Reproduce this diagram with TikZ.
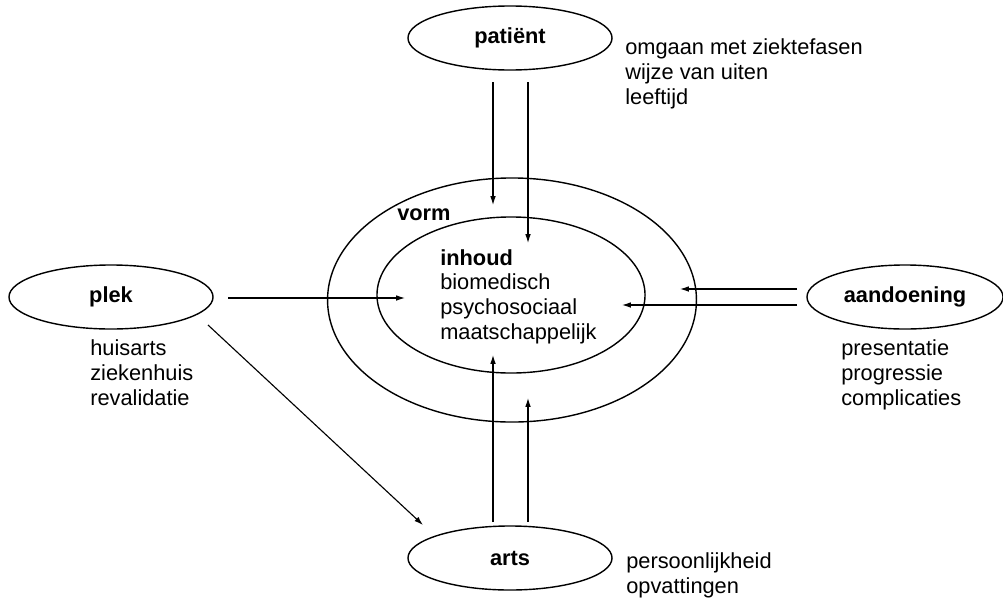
\documentclass[tikz,border=0pt]{standalone}
\usepackage{fontspec}
\setmainfont{Liberation Sans}
\usepackage{tikz}
\usetikzlibrary{positioning, arrows.meta, shapes.geometric}

\begin{document}
\begin{tikzpicture}[
    x=0.025cm, y=-0.025cm,
    every node/.style={font=\fontsize{15.5}{17.5}\selectfont},
    factor/.style={
        ellipse,
        draw=black,
        line width=1pt,
        inner sep=0pt,
        minimum width=5.1cm,
        minimum height=1.6cm,
        font=\fontsize{15.5}{17.5}\selectfont\bfseries
    },
    ring/.style={
        ellipse,
        draw=black,
        line width=1pt,
        inner sep=0pt
    },
    itemlist/.style={
        anchor=base west,
        align=left,
        inner sep=0pt
    },
    arrow/.style={-{Latex[length=2.2mm, width=1.4mm]}, line width=0.8pt}
]
\useasboundingbox (0,0) rectangle (1003,599);

% rings in the middle
\node[ring, minimum width=9.22cm, minimum height=6.1cm] (vorm) at (512,300) {};
\node[ring, minimum width=6.7cm, minimum height=3.9cm] (inhoud) at (511,295) {};

% the four factors
\node[factor] (patient) at (510,38) {patiënt};
\node[factor, minimum width=4.9cm] (aandoening) at (905,297) {aandoening};
\node[factor] (plek) at (111,297) {plek};
\node[factor] (arts) at (510,558) {arts};

% texts (anchored at the baseline of the last line)
\node[itemlist, font=\fontsize{15.5}{17.5}\selectfont\bfseries] (vormlabel) at (397,220) {vorm};
\node[itemlist] (inhoudlist) at (440,339) {\textbf{inhoud}\\biomedisch\\psychosociaal\\maatschappelijk};
\node[itemlist] (patientlist) at (625,104) {omgaan met ziektefasen\\wijze van uiten\\leeftijd};
\node[itemlist] (aandoeninglist) at (841,405) {presentatie\\progressie\\complicaties};
\node[itemlist] (pleklist) at (90,405) {huisarts\\ziekenhuis\\revalidatie};
\node[itemlist] (artslist) at (626,593) {persoonlijkheid\\opvattingen};

% free ends of the arrows
\coordinate (pa) at (493,82);  \coordinate (pb) at (528,82);
\coordinate (pa') at (493,205); \coordinate (pb') at (528,243);
\coordinate (aa) at (797,289); \coordinate (ab) at (797,305);
\coordinate (aa') at (680,289); \coordinate (ab') at (622,305);
\coordinate (la) at (228,298); \coordinate (la') at (405,298);
\coordinate (lb) at (208,325); \coordinate (lb') at (423,525);
\coordinate (ra) at (493,522); \coordinate (rb) at (528,522);
\coordinate (ra') at (493,355); \coordinate (rb') at (528,398);

\draw[arrow] (pa) -- (pa');
\draw[arrow] (pb) -- (pb');
\draw[arrow] (aa) -- (aa');
\draw[arrow] (ab) -- (ab');
\draw[arrow] (la) -- (la');
\draw[arrow] (lb) -- (lb');
\draw[arrow] (ra) -- (ra');
\draw[arrow] (rb) -- (rb');

\end{tikzpicture}
\end{document}
